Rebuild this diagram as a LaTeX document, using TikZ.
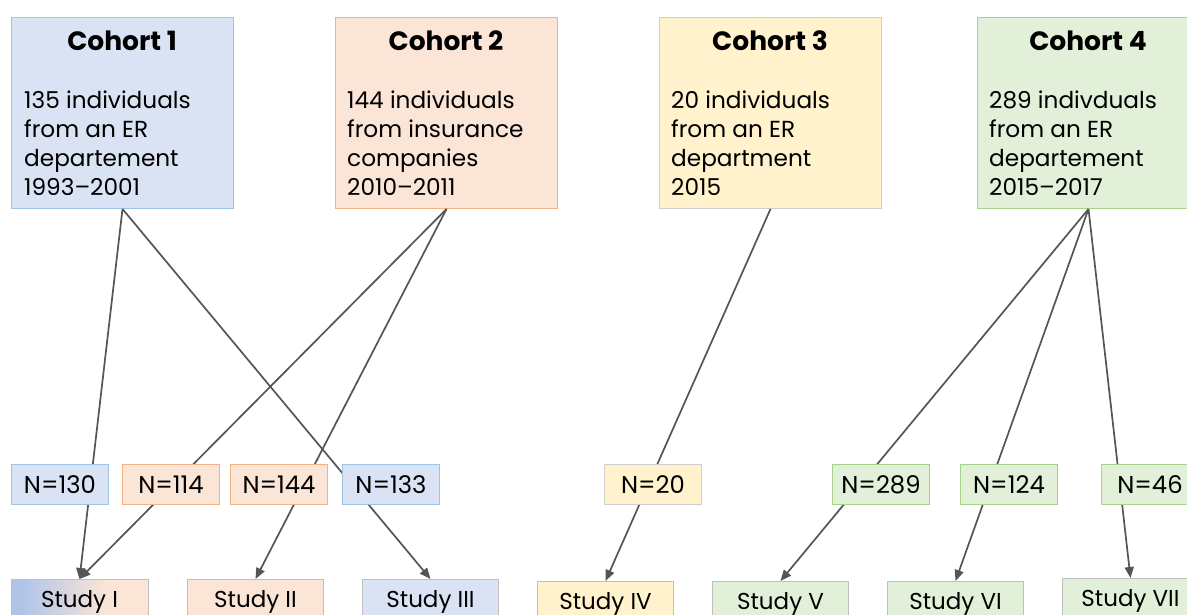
\documentclass[tikz,border=0pt]{standalone}
\usepackage{fontspec}
\setmainfont{Poppins}
\usetikzlibrary{arrows.meta}
\definecolor{bfill}{HTML}{DAE3F3}
\definecolor{bdraw}{HTML}{9DC3E6}
\definecolor{ofill}{HTML}{FBE5D6}
\definecolor{odraw}{HTML}{F4B183}
\definecolor{yfill}{HTML}{FFF2CC}
\definecolor{ydraw}{HTML}{D0CECE}
\definecolor{gfill}{HTML}{E2F0D9}
\definecolor{gdraw}{HTML}{A9D18E}
\definecolor{sblue}{HTML}{B0C4E8}
\definecolor{conncol}{HTML}{555555}
\definecolor{sdraw}{HTML}{BFBFBF}
\pgfdeclarehorizontalshading{studyone}{100bp}{color(0bp)=(sblue); color(25bp)=(sblue); color(29bp)=(sblue); color(60bp)=(ofill); color(100bp)=(ofill)}
\tikzset{
  cohortbox/.style={draw, line width=1pt, minimum width=222pt, minimum height=191pt, anchor=north west, inner sep=0pt},
  titletext/.style={font=\fontsize{26.5}{30}\selectfont\bfseries, inner sep=0pt},
  bodytext/.style={font=\fontsize{23.2}{29}\selectfont, align=left, anchor=north west, inner sep=0pt},
  nbox/.style={draw, line width=1pt, minimum width=97pt, minimum height=40pt, anchor=north west, inner sep=0pt, font=\fontsize{24.3}{28}\selectfont},
  studybox/.style={draw=sdraw, line width=1pt, minimum width=136pt, minimum height=44pt, anchor=north west, inner sep=0pt, font=\fontsize{23}{28}\selectfont},
  conn/.style={draw=conncol, line width=1.7pt, -{Triangle[length=11pt,width=9pt]}}
}
\begin{document}
\begin{tikzpicture}[x=1pt,y=-1pt]
\useasboundingbox (0,0) rectangle (1187,615);
\clip (0,0) rectangle (1187,615);
% cohort boxes
\node[cohortbox, fill=bfill, draw=bdraw] (c1) at (11,17) {};
\node[cohortbox, fill=ofill, draw=odraw] (c2) at (335,17) {};
\node[cohortbox, fill=yfill, draw=ydraw] (c3) at (659,17) {};
\node[cohortbox, fill=gfill, draw=gdraw] (c4) at (977,17) {};
\node[titletext] (t1) at (122,41) {Cohort 1};
\node[titletext] (t2) at (446,41) {Cohort 2};
\node[titletext] (t3) at (770,41) {Cohort 3};
\node[titletext] (t4) at (1088,41) {Cohort 4};
\node[bodytext] (b1) at (24,91) {135 individuals\\from an ER\\departement\\1993–2001};
\node[bodytext] (b2) at (347,91) {144 individuals\\from insurance\\companies\\2010–2011};
\node[bodytext] (b3) at (671,91) {20 individuals\\from an ER\\department\\2015};
\node[bodytext] (b4) at (989,91) {289 indivduals\\from an ER\\departement\\2015–2017};
% study boxes
\node[studybox, fill=ofill] (s1) at (11,579) {};
\shade[shading=studyone] (s1.north west) rectangle (s1.south east);
\draw[sdraw, line width=1pt] (s1.north west) rectangle (s1.south east);
\node[inner sep=0pt, font=\fontsize{23}{28}\selectfont] (s1t) at (s1.center) {Study I};
\node[studybox, fill=ofill] (s2) at (187,579) {Study II};
\node[studybox, fill=bfill] (s3) at (362,579) {Study III};
\node[studybox, fill=yfill] (s4) at (537,581) {Study IV};
\node[studybox, fill=gfill] (s5) at (712,581) {Study V};
\node[studybox, fill=gfill] (s6) at (887,581) {Study VI};
\node[studybox, fill=gfill] (s7) at (1062,578) {Study VII};
% connectors
\draw[conn] (c1.south) -- (s1.north);
\draw[conn] (c1.south) -- (s3.north);
\draw[conn] (c2.south) -- (s1.north);
\draw[conn] (c2.south) -- (s2.north);
\draw[conn] (c3.south) -- (s4.north);
\draw[conn] (c4.south) -- (s5.north);
\draw[conn] (c4.south) -- (s6.north);
\draw[conn] (c4.south) -- (s7.north);
% N boxes
\node[nbox, fill=bfill, draw=bdraw] (n1) at (11,464) {N=130};
\node[nbox, fill=ofill, draw=odraw] (n2) at (122,464) {N=114};
\node[nbox, fill=ofill, draw=odraw] (n3) at (230,464) {N=144};
\node[nbox, fill=bfill, draw=bdraw] (n4) at (342,464) {N=133};
\node[nbox, fill=yfill, draw=ydraw] (n5) at (604,464) {N=20};
\node[nbox, fill=gfill, draw=gdraw] (n6) at (832,464) {N=289};
\node[nbox, fill=gfill, draw=gdraw] (n7) at (960,464) {N=124};
\node[nbox, fill=gfill, draw=gdraw] (n8) at (1101,464) {N=46};
\end{tikzpicture}
\end{document}
